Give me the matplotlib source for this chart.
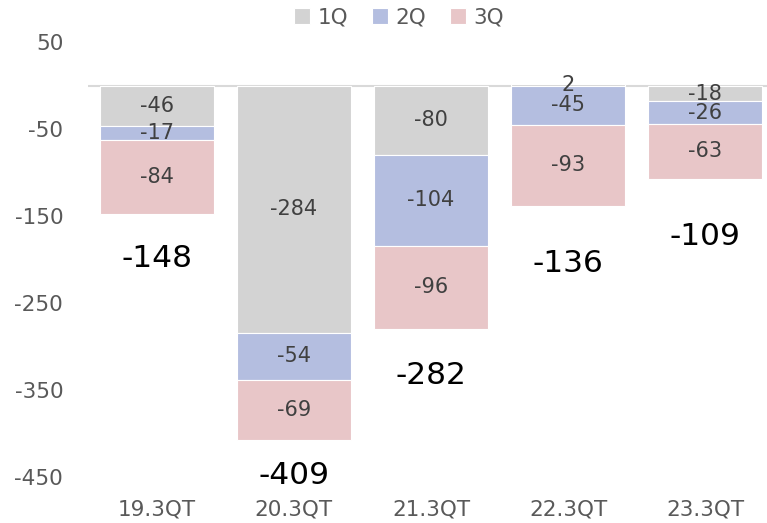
import matplotlib

matplotlib.use("Agg")
import matplotlib.pyplot as plt
import numpy as np


CATEGORIES = ["19.3QT", "20.3QT", "21.3QT", "22.3QT", "23.3QT"]
Q1 = [-46, -284, -80, 2, -18]
Q2 = [-17, -54, -104, -45, -26]
Q3 = [-84, -69, -96, -93, -63]
TOTALS = [-148, -409, -282, -136, -109]
SERIES_NAMES = ["1Q", "2Q", "3Q"]

COLORS = ["#D3D3D3", "#B4BEE0", "#E8C6C8"]
# gap between bar bottom and the total label (data units)
TOTAL_GAP = [52, 41, 53, 67, 66]


def main():
    plt.rcParams.update({
        "font.family": "DejaVu Sans",
        "font.size": 15,
        "axes.unicode_minus": False,
    })
    fig = plt.figure(figsize=(7.67, 5.23), dpi=100)
    ax = fig.add_axes([0.115, 0.0796, 0.885, 0.848])

    x = np.arange(len(CATEGORIES))
    width = 0.83

    pos_base = np.zeros(len(x))
    neg_base = np.zeros(len(x))
    for name, vals, color in zip(SERIES_NAMES, [Q1, Q2, Q3], COLORS):
        vals = np.array(vals, dtype=float)
        bottoms = np.where(vals >= 0, pos_base, neg_base)
        ax.bar(x, vals, width, bottom=bottoms, color=color, label=name,
               edgecolor="white", linewidth=0.8, zorder=2)
        for xi, b, v in zip(x, bottoms, vals):
            ax.text(xi, b + v / 2, f"{int(v)}", ha="center", va="center",
                    fontsize=15, color="#404040", zorder=4)
        pos_base = np.where(vals >= 0, pos_base + vals, pos_base)
        neg_base = np.where(vals < 0, neg_base + vals, neg_base)

    for xi, bottom, tot, gap in zip(x, neg_base, TOTALS, TOTAL_GAP):
        ax.text(xi, bottom - gap, f"{tot}", ha="center", va="center",
                fontsize=22.5, color="black", zorder=4)

    ax.axhline(0, color="#D9D9D9", linewidth=1.5, zorder=1)

    ax.set_xlim(-0.5, 4.45)
    ax.set_ylim(-455, 55)
    ax.set_yticks([50, -50, -150, -250, -350, -450])
    ax.set_xticks(x)
    ax.set_xticklabels(CATEGORIES)
    ax.tick_params(length=0, colors="#595959", labelsize=15.5)
    ax.tick_params(axis="y", pad=18)
    ax.tick_params(axis="x", pad=13)
    for spine in ax.spines.values():
        spine.set_visible(False)

    handles, labels = ax.get_legend_handles_labels()
    fig.legend(handles, labels, loc="center", bbox_to_anchor=(0.52, 0.966),
               ncol=3, frameon=False, handlelength=0.75, handleheight=0.75,
               handletextpad=0.35, columnspacing=1.1, fontsize=15.5,
               labelcolor="#595959")

    fig.savefig("out.png", dpi=100, facecolor="white")


if __name__ == "__main__":
    main()
